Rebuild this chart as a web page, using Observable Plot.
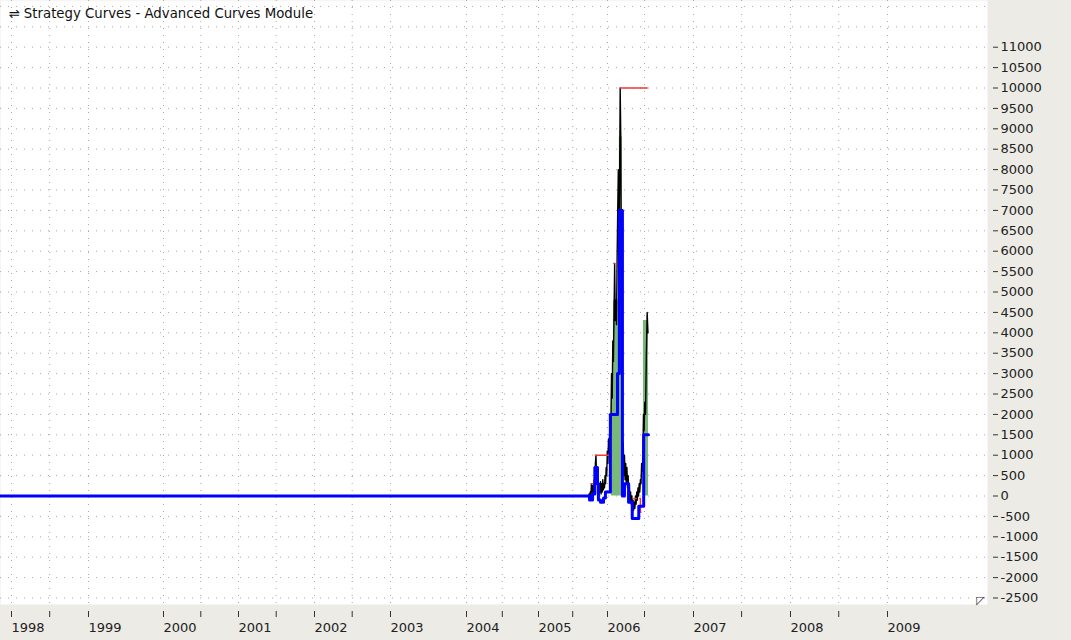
<!DOCTYPE html>
<html><head><meta charset="utf-8">
<script src="https://cdn.jsdelivr.net/npm/d3@7"></script>
<script src="https://cdn.jsdelivr.net/npm/@observablehq/plot@0.6"></script>
<style>html,body{margin:0;padding:0;background:#ecebe6;overflow:hidden}</style>
</head><body><div id="chart"></div>
<script>
// ---- text ----
const titleText = "⇌ Strategy Curves - Advanced Curves Module";
const cornerIcon = "◸";

// ---- axis ticks ----
const yearTicks = ["1998-01-01","1999-01-01","2000-01-01","2001-01-01","2002-01-01","2003-01-01","2004-01-01","2005-01-01","2006-01-01","2007-01-01","2008-01-01","2009-01-01"];
const halfYearTicks = ["1998-07-01","2000-07-01","2001-07-01","2002-07-01","2004-07-01","2005-07-01","2006-07-01","2007-07-01","2008-07-01"];
const yTickValues = [-2500,-2000,-1500,-1000,-500,0,500,1000,1500,2000,2500,3000,3500,4000,4500,5000,5500,6000,6500,7000,7500,8000,8500,9000,9500,10000,10500,11000];
const yGridValues = [-2500,-2000,-1500,-1000,-500,0,500,1000,1500,2000,2500,3000,3500,4000,4500,5000,5500,6000,6500,7000,7500,8000,8500,9000,9500,10000,10500,11000,11500,12000];

// ---- open equity (black), sampled every 3 days from 2005-09-20 ----
const blackStart = "2005-09-20";
const blackStepDays = 3;
const blackValues = [
  0,0,50,-50,100,0,300,100,250,50,
  200,400,150,800,1000,500,700,200,400,0,
  300,100,350,50,300,100,400,150,300,200,
  500,300,700,500,1100,800,1400,1100,1600,1300,
  1900,3000,2400,3800,3300,4500,5700,4300,4800,4200,
  5800,7000,8000,6500,7600,10000,8800,5000,2500,900,
  1300,500,1000,400,800,300,700,200,500,100,
  300,-100,100,-200,0,-300,-100,-350,-150,-300,
  0,-200,100,-100,200,0,300,100,400,300,
  800,600,1000,2000,1600,2300,2000,3500,4500,4000
];

// ---- closed equity (blue), step changes ----
const blueDates = ["1997-11-10","2005-09-28","2005-10-14","2005-10-26","2005-11-09","2005-11-14","2005-11-25","2005-12-11","2005-12-21","2006-01-15","2006-02-19","2006-02-28","2006-03-15","2006-03-25","2006-04-14","2006-05-02","2006-06-03","2006-06-27","2006-07-16"];
const blueValues = [0,-100,50,700,300,-100,-150,-50,100,2000,3000,7000,0,300,-150,-550,-250,1500,1500];

// ---- peak equity (red), separate step segments ----
const redSegment = [1,1,2,2,3,3,4,4,5,5,6,6,6];
const redDates  = ["2005-10-06","2005-10-22","2005-10-29","2006-01-07","2006-02-01","2006-02-06","2006-03-04","2006-07-11","2006-05-10","2006-05-21","2006-06-08","2006-06-11","2006-06-13"];
const redValues = [300,300,1000,1000,5700,5700,10000,10000,-60,-60,-60,-400,-400];

// ---- green filled area ----
const greenDates  = ["2006-01-20","2006-01-30","2006-02-28","2006-03-14","2006-06-26","2006-07-16"];
const greenValues = [3000,4800,8800,0,4300,0];

// ---- x scale stops (non-uniform bar-based time axis) ----
const xStops = ["1997-11-10","1998-01-01","1999-01-01","2000-01-01","2001-01-01","2002-01-01","2003-01-01","2004-01-01","2005-01-01","2006-01-01","2006-07-01","2007-01-01","2008-01-01","2009-01-01","2010-01-12"];
const xStopPixels = [0,11,88,163,238,314,390,466,538,607,644,693,790,887,987];

const D = s => new Date(s + "T00:00:00Z");
const t0 = D(blackStart);
const black = blackValues.map((v, i) => ({date: new Date(t0.getTime() + i * blackStepDays * 864e5), value: v}));
const blue = blueDates.map((d, i) => ({date: D(d), value: blueValues[i]}));
const red = redDates.map((d, i) => ({date: D(d), value: redValues[i], seg: redSegment[i]}));
const green = greenDates.map((d, i) => ({date: D(d), value: greenValues[i]}));
const allXTicks = yearTicks.concat(halfYearTicks).map(D);

const chart = Plot.plot({
  width: 1071,
  height: 640,
  marginTop: 0,
  marginLeft: 0,
  marginRight: 84,
  marginBottom: 36,
  style: {fontFamily: "DejaVu Sans", fontSize: "13px", background: "#ecebe6", color: "#222"},
  x: {type: "utc", domain: xStops.map(D), range: xStopPixels, label: null},
  y: {domain: [-2659, 12145], label: null},
  marks: [
    Plot.frame({fill: "white", stroke: null}),
    Plot.gridX({ticks: allXTicks, stroke: "#a8a8a8", strokeOpacity: 1, strokeDasharray: "1,6"}),
    Plot.gridY({ticks: yGridValues, stroke: "#a8a8a8", strokeOpacity: 1, strokeDasharray: "1,7"}),
    Plot.areaY(green, {x: "date", y1: 0, y2: "value", curve: "step-after", fill: "#7ab87a"}),
    Plot.line(black, {x: "date", y: "value", stroke: "#000", strokeWidth: 1.4}),
    Plot.line(red, {x: "date", y: "value", z: "seg", curve: "step-after", stroke: "#f03838", strokeWidth: 1.5}),
    Plot.line(blue, {x: "date", y: "value", curve: "step-after", stroke: "#0000ff", strokeWidth: 3}),
    Plot.axisY({anchor: "right", label: null, ticks: yTickValues, tickSize: 5, tickPadding: 3, dx: 5, tickFormat: d => String(d), fill: "#222", stroke: "#333", fontSize: 13}),
    Plot.axisX({anchor: "bottom", label: null, ticks: yearTicks.map(D), tickSize: 6, tickPadding: 5, dy: 7, textAnchor: "start", tickFormat: d3.utcFormat("%Y"), fill: "#222", stroke: "#333", fontSize: 13}),
    Plot.axisX({anchor: "bottom", label: null, ticks: halfYearTicks.map(D), tickSize: 6, dy: 7, tickFormat: () => "", stroke: "#333"}),
    Plot.text([titleText], {frameAnchor: "top-left", dx: 8, dy: 8, lineAnchor: "top", textAnchor: "start", fontSize: 13.3, fill: "#111"}),
    Plot.text([cornerIcon], {frameAnchor: "bottom-right", dx: -7, dy: -1, lineAnchor: "bottom", textAnchor: "middle", fontSize: 11, fill: "#333"})
  ]
});
document.getElementById("chart").appendChild(chart);
</script>
</body></html>
